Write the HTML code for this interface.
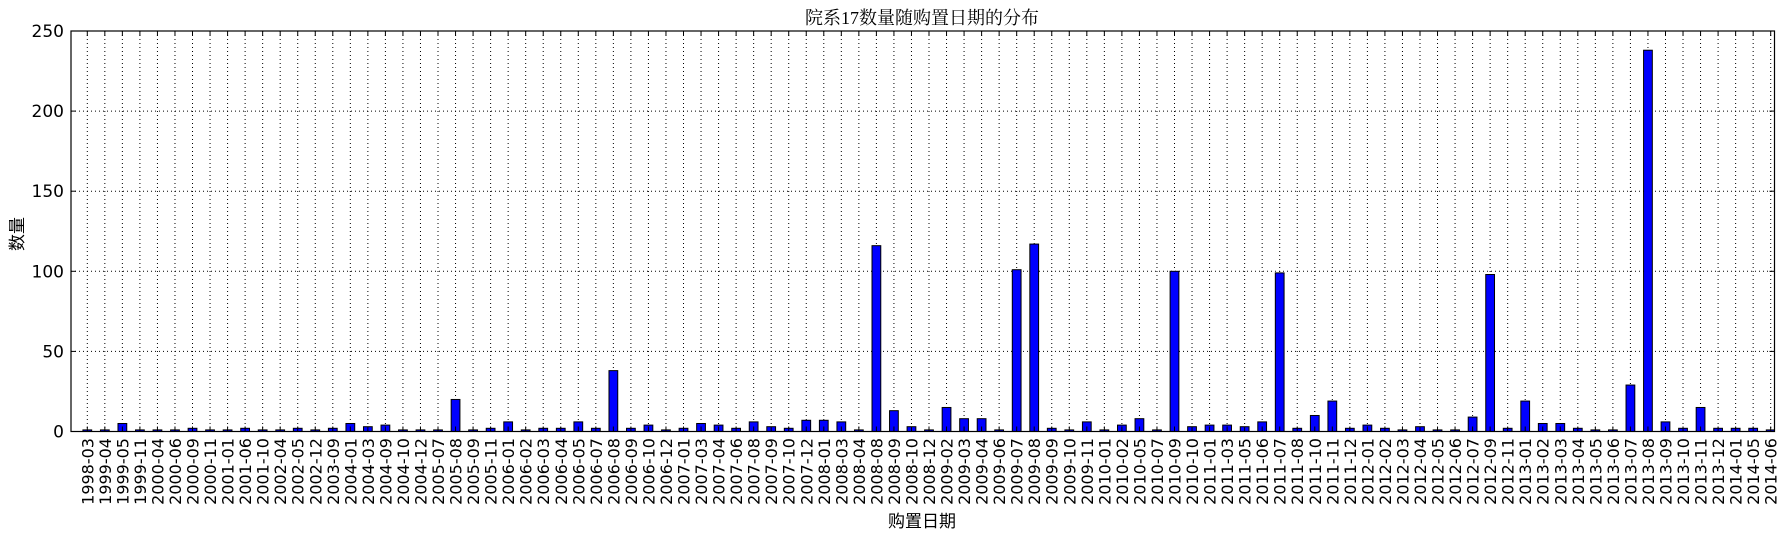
<!DOCTYPE html>
<html><head><meta charset="utf-8">
<style>
html,body{margin:0;padding:0;background:#fff;}
svg{display:block;}
</style></head>
<body>
<svg id="chart" width="1789" height="539" xmlns="http://www.w3.org/2000/svg">
<text x="922" y="24" text-anchor="middle" font-family="'Liberation Serif','Noto Serif CJK SC',serif" font-size="18">院系17数量随购置日期的分布</text>
<text transform="translate(23,234) rotate(-90)" text-anchor="middle" font-family="'Liberation Sans','Noto Sans CJK SC',sans-serif" font-size="17">数量</text>
<text x="922" y="527" text-anchor="middle" font-family="'Liberation Sans','Noto Sans CJK SC',sans-serif" font-size="17">购置日期</text>
<g id="grid"></g><g id="bars"></g><g id="axes"></g>
</svg>
<script>
const categories = ["1998-03","1999-04","1999-05","1999-11","2000-04","2000-06","2000-09","2000-11","2001-01","2001-06","2001-10","2002-04","2002-05","2002-12","2003-09","2004-01","2004-03","2004-09","2004-10","2004-12","2005-07","2005-08","2005-09","2005-11","2006-01","2006-02","2006-03","2006-04","2006-05","2006-07","2006-08","2006-09","2006-10","2006-12","2007-01","2007-03","2007-04","2007-06","2007-08","2007-09","2007-10","2007-12","2008-01","2008-03","2008-04","2008-08","2008-09","2008-10","2008-12","2009-02","2009-03","2009-04","2009-06","2009-07","2009-08","2009-09","2009-10","2009-11","2010-01","2010-02","2010-05","2010-07","2010-09","2010-10","2011-01","2011-03","2011-05","2011-06","2011-07","2011-08","2011-10","2011-11","2011-12","2012-01","2012-02","2012-03","2012-04","2012-05","2012-06","2012-07","2012-09","2012-11","2013-01","2013-02","2013-03","2013-04","2013-05","2013-06","2013-07","2013-08","2013-09","2013-10","2013-11","2013-12","2014-01","2014-05","2014-06"];
const values = [1,1,5,1,1,1,2,1,1,2,1,1,2,1,2,5,3,4,1,1,1,20,1,2,6,1,2,2,6,2,38,2,4,1,2,5,4,2,6,3,2,7,7,6,1,116,13,3,1,15,8,8,1,101,117,2,1,6,1,4,8,1,100,3,4,4,3,6,99,2,10,19,2,4,2,1,3,1,1,9,98,2,19,5,5,2,1,1,29,238,6,2,15,2,2,2,1];
const yTicks = [0,50,100,150,200,250];

const NS="http://www.w3.org/2000/svg";
const L=71,R=1774.5,T=31,B=431.5;
const firstX=87.3, lastX=1770.7;
const step=(lastX-firstX)/(categories.length-1);
function xPos(i){return firstX+i*step;}
function yPos(v){return B-(v/250)*(B-T);}
function mk(tag,attrs,parent){const e=document.createElementNS(NS,tag);for(const k in attrs)e.setAttribute(k,attrs[k]);parent.appendChild(e);return e;}
const grid=document.getElementById('grid'),bars=document.getElementById('bars'),axes=document.getElementById('axes');
const gs={stroke:"#000","stroke-width":1,"stroke-dasharray":"1,3",fill:"none"};
yTicks.forEach(t=>{
  const y=yPos(t);
  const gl=mk('line',Object.assign({x1:L,x2:R,y1:y,y2:y},gs),grid);
  
  
  const tx=mk('text',{x:L-7,y:y+6,"text-anchor":"end","font-family":"'DejaVu Sans','Liberation Sans',sans-serif","font-size":17},axes);
  tx.textContent=t;
  
  
  mk('line',{x1:L,x2:L+5,y1:y,y2:y,stroke:"#000"},axes);
  mk('line',{x1:R-5,x2:R,y1:y,y2:y,stroke:"#000"},axes);
});
const bw=step*0.5;
categories.forEach((c,i)=>{
  const x=xPos(i);
  const gl=mk('line',Object.assign({x1:x,x2:x,y1:T,y2:B},gs),grid);
  
  
  const y=yPos(values[i]);
  const right=Math.min(x+bw/2,R);
  const r=mk('rect',{x:x-bw/2,y:y,width:Math.max(0,right-(x-bw/2)),height:B-y,fill:"#0000ff",stroke:"#000","stroke-width":1},bars);
  
  
  const tx=mk('text',{transform:`translate(${x+6},${438}) rotate(-90)`,"text-anchor":"end","font-family":"'DejaVu Sans','Liberation Sans',sans-serif","font-size":16},axes);
  tx.textContent=c;
  
  
  mk('line',{x1:x,x2:x,y1:B,y2:B-5,stroke:"#000"},axes);
  mk('line',{x1:x,x2:x,y1:T,y2:T+5,stroke:"#000"},axes);
});
const frame=mk('rect',{x:L,y:T,width:R-L,height:B-T,fill:"none",stroke:"#000","stroke-width":1.2},axes);


</script>
</body></html>
